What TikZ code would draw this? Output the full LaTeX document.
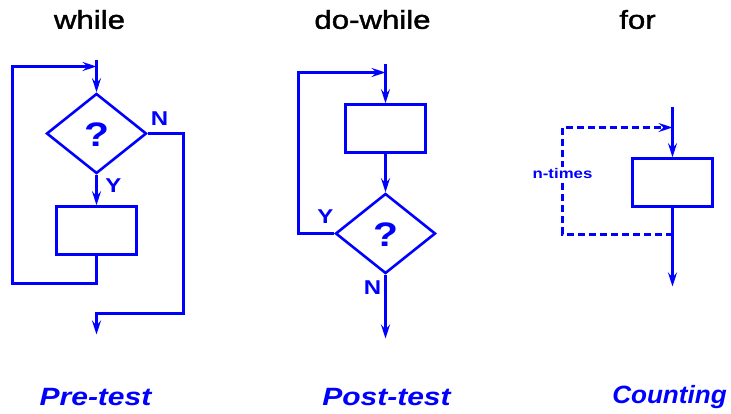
\documentclass[tikz,border=0pt]{standalone}
\usepackage{fontspec}
\setmainfont{Liberation Sans}[FakeStretch=1.2]
\usetikzlibrary{shapes.geometric,arrows.meta}
\definecolor{fb}{RGB}{0,0,255}
\tikzset{
  ln/.style={draw=fb,line width=2.6pt},
  arr/.style={ln,-{Stealth[length=14pt,width=9pt,inset=5pt]}},
  box/.style={draw=fb,line width=2.6pt,minimum width=80pt,minimum height=48pt,inner sep=0pt},
  dia/.style={draw=fb,line width=2.6pt,diamond,minimum width=100pt,minimum height=80pt,inner sep=0pt,aspect=1.25},
  qm/.style={text=fb,font=\fontsize{34}{34}\selectfont\bfseries},
  lbl/.style={text=fb,font=\fontsize{20}{20}\selectfont\bfseries,inner sep=0pt},
  ttl/.style={font=\fontsize{26}{26}\selectfont\addfontfeatures{FakeBold=1.5},inner sep=0pt},
  sub/.style={text=fb,font=\fontsize{25}{25}\selectfont\bfseries\itshape,inner sep=0pt},
  dsh/.style={ln,dash pattern=on 7pt off 4pt}
}
\begin{document}
\begin{tikzpicture}[x=1pt,y=-1pt,line width=2.6pt]
\useasboundingbox (-0.5,-0.5) rectangle (730.5,413.5);
% ---------- while ----------
\node[ttl] (t1) at (89,19) {while};
\coordinate (w0) at (96,60);
\coordinate (wj) at (96,66);
\node[dia] (wd) at (96,133) {};
\node[qm] (wq) at (96,134) {?};
\node[box] (wb) at (96,230) {};
\node[lbl] (wn) at (159,118) {N};
\node[lbl] (wy) at (113,185) {Y};
\coordinate (wend) at (96,334);
\draw[arr] (w0) -- (wd.north);
\draw[arr] (wd.south) -- (wb.north);
\draw[arr] (wb.south) -- (96,283) -- (12,283) -- (12,66) -- (wj);
\draw[arr] (wd.east) -- (183,133) -- (183,313) -- (96,313) -- (wend);
\node[sub] (s1) at (95,397) {Pre-test};
% ---------- do-while ----------
\node[ttl] (t2) at (372,19) {do-while};
\coordinate (d0) at (385,64);
\coordinate (dj) at (385,72);
\node[box] (db) at (385,128) {};
\node[dia] (dd) at (385,233) {};
\node[qm] (dq) at (385,234) {?};
\node[lbl] (dy) at (325,216) {Y};
\node[lbl] (dn) at (372,287) {N};
\coordinate (dend) at (385,338);
\draw[arr] (d0) -- (db.north);
\draw[arr] (db.south) -- (dd.north);
\draw[arr] (dd.west) -- (298,233) -- (298,72) -- (dj);
\draw[arr] (dd.south) -- (dend);
\node[sub] (s2) at (386,397) {Post-test};
% ---------- for ----------
\node[ttl] (t3) at (637,19) {for};
\coordinate (f0) at (672,107);
\coordinate (fj) at (672,127);
\coordinate (fs) at (672,234);
\node[box] (fb1) at (672,182) {};
\coordinate (fend) at (672,286);
\draw[arr] (f0) -- (fb1.north);
\draw[arr] (fb1.south) -- (fend);
\draw[dsh,-{Stealth[length=14pt,width=9pt,inset=5pt]}] (fs) -- (562,234) -- (562,127) -- (fj);
\node[text=fb,fill=white,font=\fontsize{14}{14}\selectfont\bfseries,inner sep=1pt] (fn) at (562,173) {n-times};
\node[sub] (s3) at (669,397) {\scalebox{0.87}[1]{Counting}};
\end{tikzpicture}
\end{document}
